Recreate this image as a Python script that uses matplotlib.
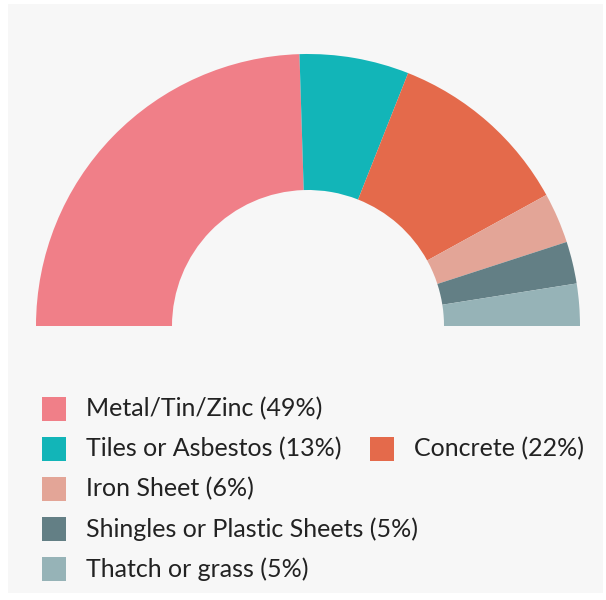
import matplotlib.pyplot as plt
from matplotlib.patches import Rectangle

labels = ["Metal/Tin/Zinc", "Tiles or Asbestos", "Concrete",
          "Iron Sheet", "Shingles or Plastic Sheets", "Thatch or grass"]
shares = [49, 13, 22, 6, 5, 5]
colors = ["#F07F88", "#12B5B8", "#E46A4B", "#E3A597", "#637F85", "#96B3B7"]

# legend rows (label index, row, column x in px)
legend_slots = [(0, 0, 42), (1, 1, 42), (2, 1, 370), (3, 2, 42), (4, 3, 42), (5, 4, 42)]

W, H = 606, 600
bg = "#F7F7F7"

fig = plt.figure(figsize=(W / 100, H / 100), dpi=100)
fig.patch.set_facecolor("white")
fig.patches.append(Rectangle((8 / W, 7 / H), 595 / W, 589 / H, transform=fig.transFigure,
                             facecolor=bg, edgecolor="none", zorder=-1))

# donut: center (308, 326) px from top, outer radius 272 px
cx, cy, r = 308, 326, 272
ax = fig.add_axes([(cx - r) / W, (H - cy - r) / H, 2 * r / W, 2 * r / H])
ax.set_zorder(1)
ax.set_facecolor("none")
vals = shares + [sum(shares)]
cols = colors + ["none"]
wedges, _ = ax.pie(vals, colors=cols, startangle=180, counterclock=False, radius=1,
                   wedgeprops=dict(width=0.5, edgecolor="none", linewidth=0))
ax.set_xlim(-1, 1)
ax.set_ylim(-1, 1)
ax.set_aspect("equal")
ax.axis("off")

font = ["Lato", "DejaVu Sans"]
row_y0, row_gap = 409, 40
for i, row, x in legend_slots:
    y = row_y0 + row * row_gap
    fig.patches.append(Rectangle((x / W, (H - y - 12) / H), 24 / W, 24 / H,
                                 transform=fig.transFigure, facecolor=colors[i],
                                 edgecolor="none", zorder=2))
    fig.text((x + 44) / W, (H - y) / H, f"{labels[i]} ({shares[i]}%)",
             fontsize=18, family=font, color="#222222", va="center", ha="left")

fig.savefig("out.png", dpi=100, facecolor=fig.get_facecolor())
